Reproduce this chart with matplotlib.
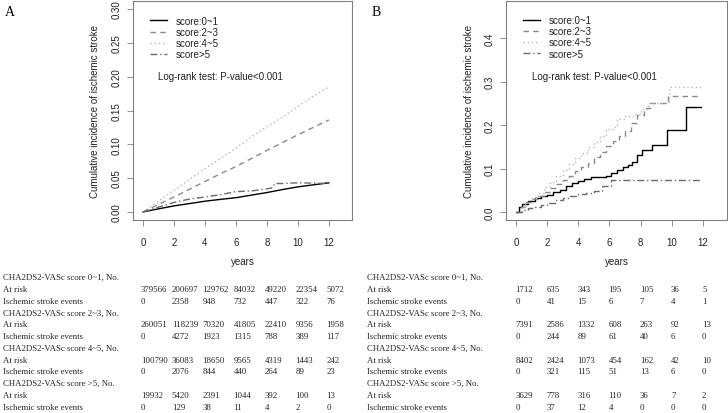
import matplotlib
matplotlib.use("Agg")
import matplotlib.pyplot as plt
from matplotlib.transforms import blended_transform_factory

plt.rcParams['font.family'] = ['Liberation Sans', 'DejaVu Sans']

# ---------------- data ----------------
labels = ["score:0~1", "score:2~3", "score:4~5", "score>5"]
years_ticks = [0, 2, 4, 6, 8, 10, 12]

# Panel A
a01_t = [0, 1, 2, 3, 4, 5, 6, 7, 8, 9, 10, 11, 12]
a01_y = [0, 0.0045, 0.0089, 0.0123, 0.0158, 0.0185, 0.021, 0.0248, 0.0286, 0.033, 0.037, 0.040, 0.043]
a23_t = [0, 1, 2, 3, 4, 5, 6, 7, 8, 9, 10, 11, 12]
a23_y = [0, 0.011, 0.022, 0.0335, 0.045, 0.0565, 0.067, 0.079, 0.091, 0.1025, 0.114, 0.125, 0.136]
a45_t = [0, 1, 2, 3, 4, 5, 6, 7, 8, 9, 10, 11, 12]
a45_y = [0, 0.016, 0.032, 0.048, 0.064, 0.079, 0.094, 0.111, 0.126, 0.140, 0.156, 0.171, 0.185]
a5_t = [0, 1, 2, 3, 4, 5, 6, 7, 8, 8.4, 8.5, 9, 10, 11, 12]
a5_y = [0, 0.007, 0.014, 0.019, 0.022, 0.0255, 0.030, 0.031, 0.034, 0.036, 0.042, 0.042, 0.043, 0.0425, 0.042]

# Panel B (step curves)
b01_t = [0, 0.2, 0.4, 0.8, 1.2, 1.6, 2.0, 2.4, 2.8, 3.2, 3.6, 4.0, 4.4, 4.8, 5.8, 6.1, 6.5,
         6.9, 7.2, 7.45, 7.75, 8.1, 8.75, 9.7, 10.9, 11.9]
b01_y = [0, 0.012, 0.018, 0.025, 0.032, 0.036, 0.040, 0.046, 0.052, 0.059, 0.066, 0.072, 0.077,
         0.080, 0.083, 0.090, 0.096, 0.103, 0.108, 0.115, 0.132, 0.142, 0.154, 0.188, 0.242, 0.242]
b23_t = [0, 0.3, 0.6, 1.0, 1.4, 1.8, 2.2, 2.6, 3.0, 3.4, 3.8, 4.2, 4.6, 5.0, 5.4, 5.8, 6.2,
         6.6, 7.0, 7.4, 7.8, 8.2, 8.6, 9.76, 11.9]
b23_y = [0, 0.012, 0.023, 0.030, 0.038, 0.047, 0.056, 0.065, 0.074, 0.083, 0.094, 0.104, 0.114,
         0.126, 0.138, 0.151, 0.163, 0.174, 0.186, 0.204, 0.224, 0.240, 0.250, 0.266, 0.266]
b45_t = [0, 0.3, 0.6, 1.0, 1.4, 1.8, 2.2, 2.6, 3.0, 3.4, 3.8, 4.2, 4.6, 5.0, 5.4, 5.8, 6.2,
         6.5, 7.0, 7.5, 8.0, 8.5, 9.85, 11.9]
b45_y = [0, 0.012, 0.022, 0.033, 0.045, 0.057, 0.070, 0.083, 0.096, 0.110, 0.124, 0.137, 0.150,
         0.162, 0.175, 0.190, 0.195, 0.213, 0.220, 0.226, 0.238, 0.250, 0.287, 0.287]
b5_t = [0, 0.4, 0.8, 1.2, 1.6, 2.0, 2.5, 3.0, 3.5, 4.0, 4.5, 5.0, 5.5, 6.1, 11.9]
b5_y = [0, 0.004, 0.009, 0.013, 0.017, 0.022, 0.027, 0.033, 0.038, 0.042, 0.045, 0.048, 0.060,
        0.073, 0.073]

# At-risk tables
row_titles = ["CHA2DS2-VASc score 0~1, No.", "CHA2DS2-VASc score 2~3, No.",
              "CHA2DS2-VASc score 4~5, No.", "CHA2DS2-VASc score >5, No."]
A_risk = [["379566", "200697", "129762", "84032", "49220", "22354", "5072"],
          ["260051", "118239", "70320", "41805", "22410", "9356", "1958"],
          ["100790", "36083", "18650", "9565", "4319", "1443", "242"],
          ["19932", "5420", "2391", "1044", "392", "100", "13"]]
A_events = [["0", "2358", "948", "732", "447", "322", "76"],
            ["0", "4272", "1923", "1315", "788", "389", "117"],
            ["0", "2076", "844", "440", "264", "89", "23"],
            ["0", "129", "38", "11", "4", "2", "0"]]
B_risk = [["1712", "635", "343", "195", "105", "36", "5"],
          ["7391", "2586", "1332", "608", "263", "92", "13"],
          ["8402", "2424", "1073", "454", "162", "42", "10"],
          ["3629", "778", "316", "110", "36", "7", "2"]]
B_events = [["0", "41", "15", "6", "7", "4", "1"],
            ["0", "244", "89", "61", "40", "6", "0"],
            ["0", "321", "115", "51", "13", "6", "0"],
            ["0", "37", "12", "4", "0", "0", "0"]]

# ---------------- styles ----------------
W, H = 728, 414
styles = [dict(color="#000000", lw=1.0, ls="-"),
          dict(color="#8a8a8a", lw=1.0, dashes=(4, 3)),
          dict(color="#b8b8b8", lw=1.0, dashes=(1, 2)),
          dict(color="#6a6a6a", lw=1.0, dashes=(5, 2, 1, 2))]
frame_col = "#808080"
txt_col = "#222222"

fig = plt.figure(figsize=(W / 100, H / 100), dpi=100)
axA = fig.add_axes([133 / W, 1 - 221 / H, 219 / W, 219 / H])
axB = fig.add_axes([506 / W, 1 - 221 / H, 221 / W, 219 / H])


def style_axes(ax, yticks, yfmt, xlim, ylim):
    ax.set_xlim(*xlim)
    ax.set_ylim(*ylim)
    ax.set_xticks(years_ticks)
    ax.set_yticks(yticks)
    ax.set_yticklabels([yfmt.format(v) for v in yticks], rotation=90, va="center")
    ax.tick_params(direction="out", length=4, width=0.6, color=frame_col,
                   labelsize=7, labelcolor=txt_col)
    ax.tick_params(axis="x", pad=8)
    ax.tick_params(axis="y", pad=4)
    for s in ax.spines.values():
        s.set_color(frame_col)
        s.set_linewidth(0.8)
    ax.set_xlabel("years", fontsize=7, color=txt_col)
    ax.set_ylabel("Cumulative incidence of ischemic stroke", fontsize=7, color=txt_col)


# Panel A
for (t, y), st, lab in zip([(a01_t, a01_y), (a23_t, a23_y), (a45_t, a45_y), (a5_t, a5_y)], styles, labels):
    axA.plot(t, y, label=lab, **st)
style_axes(axA, [0, 0.05, 0.10, 0.15, 0.20, 0.25, 0.30], "{:.2f}", (-0.65, 13.5), (-0.012, 0.312))
axA.xaxis.set_label_coords(0.5, -0.164)
axA.yaxis.set_label_coords((99.5 - 133) / 219, 0.5)
axA.legend(loc="upper left", bbox_to_anchor=((150 - 133) / 219, 0.932), frameon=False,
           fontsize=7, handlelength=1.7, handletextpad=0.9, labelspacing=0.12,
           borderpad=0, borderaxespad=0, labelcolor=txt_col)
axA.text(0.114, 0.658, "Log-rank test: P-value<0.001", transform=axA.transAxes,
         fontsize=7, color=txt_col, va="center", ha="left")

# Panel B
for (t, y), st, lab in zip([(b01_t, b01_y), (b23_t, b23_y), (b45_t, b45_y), (b5_t, b5_y)], styles, labels):
    axB.step(t, y, where="post", label=lab, **st)
style_axes(axB, [0, 0.1, 0.2, 0.3, 0.4], "{:.1f}", (-0.64, 13.55), (-0.018, 0.485))
axB.xaxis.set_label_coords(0.5, -0.164)
axB.yaxis.set_label_coords((473.5 - 506) / 221, 0.5)
axB.legend(loc="upper left", bbox_to_anchor=((523 - 506) / 221, 0.936), frameon=False,
           fontsize=7, handlelength=1.7, handletextpad=0.9, labelspacing=0.12,
           borderpad=0, borderaxespad=0, labelcolor=txt_col)
axB.text(0.118, 0.658, "Log-rank test: P-value<0.001", transform=axB.transAxes,
         fontsize=7, color=txt_col, va="center", ha="left")

# Panel letters
fig.text(5 / W, 1 - 13 / H, "A", family="Liberation Serif", fontsize=10, va="center", ha="left")
fig.text(372 / W, 1 - 13 / H, "B", family="Liberation Serif", fontsize=10, va="center", ha="left")

# Tables
row0 = 278
dy = 11.8
serif = dict(family="Liberation Serif", fontsize=6.3, color=txt_col, va="center")


def table(ax, x_left_px, risk, events, xoff):
    tr = blended_transform_factory(ax.transData, fig.transFigure)
    r = 0
    for g in range(4):
        fig.text(x_left_px / W, 1 - (row0 + dy * r) / H, row_titles[g], ha="left", **serif)
        r += 1
        fig.text(x_left_px / W, 1 - (row0 + dy * r) / H, "At risk", ha="left", **serif)
        for xv, s in zip(years_ticks, risk[g]):
            fig.text(xv + xoff, 1 - (row0 + dy * r) / H, s, transform=tr, ha="left", **serif)
        r += 1
        fig.text(x_left_px / W, 1 - (row0 + dy * r) / H, "Ischemic stroke events", ha="left", **serif)
        for xv, s in zip(years_ticks, events[g]):
            fig.text(xv + xoff, 1 - (row0 + dy * r) / H, s, transform=tr, ha="left", **serif)
        r += 1


table(axA, 3, A_risk, A_events, -0.15)
table(axB, 367, B_risk, B_events, -0.05)

fig.savefig("out.png", dpi=100)
